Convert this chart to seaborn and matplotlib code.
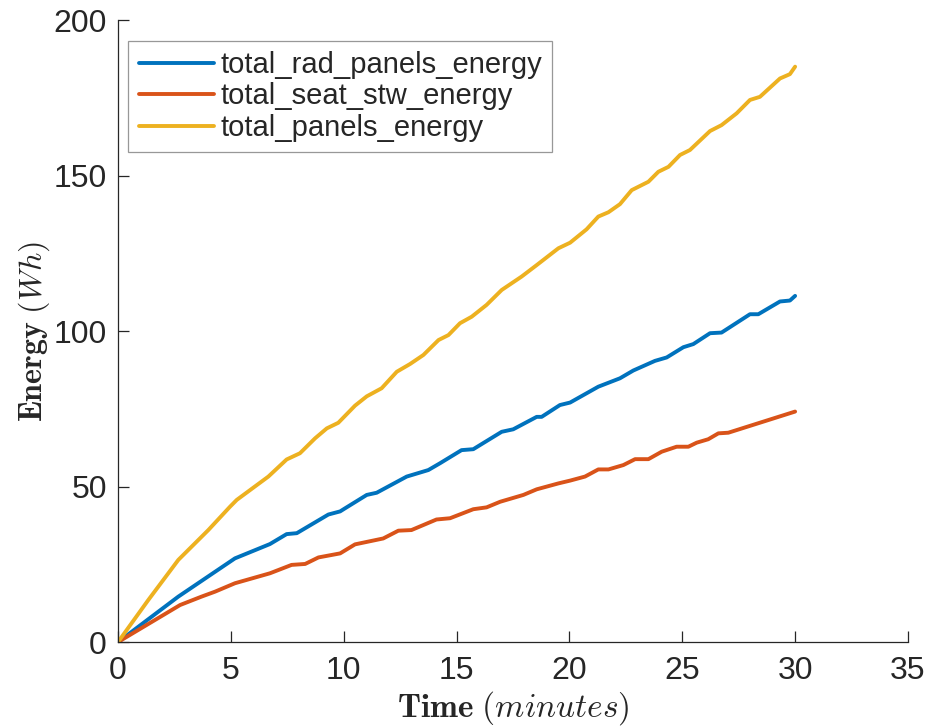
import numpy as np
import pandas as pd
import matplotlib
matplotlib.use("Agg")
import matplotlib.pyplot as plt
import seaborn as sns

# Cumulative energy readings (minutes, Wh)
panels_t = [0, 1.34, 2.67, 4.0, 4.96, 5.26, 6.66, 7.47, 8.06, 8.73, 9.25, 9.76, 10.5,
            11.02, 11.68, 12.35, 12.94, 13.53, 14.2, 14.64, 15.15, 15.67, 16.33, 17.0,
            17.88, 18.55, 19.51, 20.03, 20.76, 21.28, 21.73, 22.24, 22.76, 23.5, 23.94,
            24.39, 24.9, 25.34, 26.23, 26.74, 27.41, 28.0, 28.44, 29.33, 29.77, 30.0]
panels_e = [0, 13.5, 26.4, 36.0, 43.5, 45.7, 53.2, 58.7, 60.7, 65.5, 68.7, 70.5, 76.0,
            79.0, 81.6, 86.9, 89.4, 92.3, 97.1, 98.7, 102.5, 104.6, 108.4, 113.2,
            117.5, 121.2, 126.6, 128.4, 132.7, 136.8, 138.2, 140.8, 145.3, 148.0, 151.2,
            152.8, 156.6, 158.2, 164.3, 166.2, 170.0, 174.3, 175.3, 181.2, 182.6, 185.0]

rad_t = [0, 2.67, 5.18, 6.73, 7.47, 7.92, 9.32, 9.84, 10.06, 11.02, 11.46, 12.79, 13.75,
         14.27, 15.22, 15.74, 17.0, 17.51, 18.55, 18.77, 19.58, 20.03, 21.28, 22.24,
         22.83, 23.79, 24.31, 25.05, 25.49, 26.23, 26.74, 28.0, 28.37, 29.33, 29.77, 30.0]
rad_e = [0, 14.6, 26.9, 31.5, 34.7, 35.0, 41.0, 42.0, 43.0, 47.3, 48.0, 53.2, 55.3,
         57.5, 61.7, 62.0, 67.6, 68.4, 72.4, 72.4, 76.2, 77.0, 82.1, 84.8,
         87.3, 90.4, 91.5, 94.8, 95.8, 99.3, 99.5, 105.4, 105.4, 109.5, 109.8, 111.3]

seat_t = [0, 2.75, 3.7, 4.3, 5.18, 6.73, 7.69, 8.29, 8.88, 9.84, 10.5, 11.75, 12.42, 13.0,
          14.11, 14.71, 15.74, 16.33, 16.93, 17.96, 18.55, 19.51, 20.03, 20.69, 21.28,
          21.73, 22.39, 22.91, 23.5, 24.09, 24.75, 25.27, 25.64, 26.15, 26.6, 27.04, 30.0]
seat_e = [0, 11.9, 14.6, 16.2, 18.9, 22.1, 24.8, 25.1, 27.2, 28.5, 31.4, 33.3, 35.8, 36.0,
          39.4, 39.8, 42.7, 43.3, 45.1, 47.3, 49.1, 51.0, 51.9, 53.2, 55.5,
          55.5, 56.9, 58.8, 58.8, 61.2, 62.8, 62.8, 64.1, 65.2, 67.1, 67.3, 74.1]

series_names = ["total_rad_panels_energy", "total_seat_stw_energy", "total_panels_energy"]
series_colors = ["#0072BD", "#D95319", "#EDB120"]

df = pd.concat([
    pd.DataFrame({"time": rad_t, "energy": rad_e, "series": series_names[0]}),
    pd.DataFrame({"time": seat_t, "energy": seat_e, "series": series_names[1]}),
    pd.DataFrame({"time": panels_t, "energy": panels_e, "series": series_names[2]}),
], ignore_index=True)

sns.set_theme(style="ticks")
plt.rcParams["font.family"] = ["Liberation Sans", "DejaVu Sans"]
plt.rcParams["mathtext.fontset"] = "cm"

fig = plt.figure(figsize=(9.28, 7.28), dpi=100)
ax = fig.add_axes([0.1272, 0.1181, 0.8512, 0.8544])

sns.lineplot(data=df, x="time", y="energy", hue="series", hue_order=series_names,
             palette=dict(zip(series_names, series_colors)), sort=False,
             estimator=None, linewidth=2.8, ax=ax, legend=False)

ax.set_xlim(0, 35)
ax.set_ylim(0, 200)
ax.set_xticks(np.arange(0, 36, 5))
ax.set_yticks(np.arange(0, 201, 50))

for side in ["top", "right"]:
    ax.spines[side].set_visible(False)
for side in ["left", "bottom"]:
    ax.spines[side].set_color("#262626")
    ax.spines[side].set_linewidth(0.9)
ax.tick_params(direction="in", length=8, width=0.9, color="#262626",
               labelsize=23, labelcolor="#262626")
ax.tick_params(axis="x", pad=10)
ax.tick_params(axis="y", pad=8)

ax.set_xlabel(r"$\mathbf{Time}$ $(minutes)$", fontsize=24, labelpad=2)
ax.set_ylabel(r"$\mathbf{Energy}$ $(Wh)$", fontsize=23, labelpad=1)

handles = [plt.Line2D([], [], color=c, linewidth=2.8) for c in series_colors]
leg = ax.legend(handles, series_names, loc="upper left", bbox_to_anchor=(0.013, 0.967),
                fontsize=21, frameon=True, fancybox=False, handlelength=2.6,
                handletextpad=0.2, borderpad=0.35, labelspacing=0.12, borderaxespad=0)
leg.get_frame().set_edgecolor("#7f7f7f")
leg.get_frame().set_linewidth(0.9)

fig.savefig("out.png", dpi=100, facecolor="white")
